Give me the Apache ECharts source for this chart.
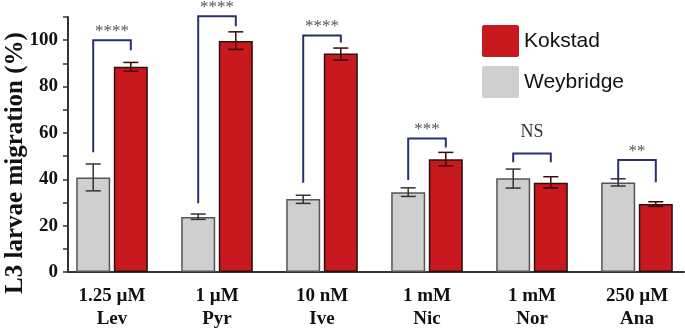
<!DOCTYPE html>
<html>
<head>
<meta charset="utf-8">
<script src="https://cdn.jsdelivr.net/npm/echarts@6/dist/echarts.min.js"></script>
<style>
html,body{margin:0;padding:0;background:#fff;}
#chart{width:685px;height:330px;}
</style>
</head>
<body>
<div id="chart"></div>
<script>
// ---- data ----
var categories = ['1.25 µM\nLev', '1 µM\nPyr', '10 nM\nIve', '1 mM\nNic', '1 mM\nNor', '250 µM\nAna'];
var weybridge = [40.8, 23.7, 31.5, 34.4, 40.4, 38.6];
var weybridgeLow = [35.0, 22.7, 29.6, 32.6, 36.2, 37.1];
var weybridgeHigh = [46.6, 25.0, 33.1, 36.3, 44.4, 40.2];
var kokstad = [88.5, 99.7, 94.3, 48.6, 38.5, 29.3];
var kokstadLow = [86.6, 96.0, 91.4, 45.8, 36.3, 28.3];
var kokstadHigh = [90.4, 103.6, 96.6, 51.6, 41.1, 30.3];
var bracketLeftBottom = [51.7, 29.7, 38.5, 39.7, 47.3, 39.4];
var bracketRightBottom = [95.7, 106.0, 99.0, 53.7, 47.3, 38.7];
var bracketTop = [100.0, 110.3, 102.0, 57.6, 51.1, 48.3];
var sigLabels = ['****', '****', '****', '***', 'NS', '**'];
var yTicks = [0, 20, 40, 60, 80, 100];

// ---- styles ----
var RED = '#c8191e', GRAY = '#cfcfcf', NAVY = '#28316f';
var BAR_W = 34, BAR_GAP = 3.6;
var OFF = (BAR_W + BAR_GAP) / 2;
var SQUARE = 'path://M2,0 H35 Q37,0 37,2 V30 Q37,32 35,32 H2 Q0,32 0,30 V2 Q0,0 2,0 Z';

var chart = echarts.init(document.getElementById('chart'), null, {renderer: 'canvas'});

function errRender(offset, color) {
  return function (params, api) {
    var idx = api.value(0);
    var pLo = api.coord([idx, api.value(1)]);
    var pHi = api.coord([idx, api.value(2)]);
    var cx = pLo[0] + offset, hw = 7.5;
    var st = {stroke: color, lineWidth: 1.5};
    return {type: 'group', children: [
      {type: 'line', shape: {x1: cx, y1: pLo[1], x2: cx, y2: pHi[1]}, style: st},
      {type: 'line', shape: {x1: cx - hw, y1: pLo[1], x2: cx + hw, y2: pLo[1]}, style: st},
      {type: 'line', shape: {x1: cx - hw, y1: pHi[1], x2: cx + hw, y2: pHi[1]}, style: st}
    ]};
  };
}

function errData(low, high) {
  return categories.map(function (c, i) { return [i, low[i], high[i]]; });
}

var bracketData = categories.map(function (c, i) {
  return [i, bracketLeftBottom[i], bracketRightBottom[i], bracketTop[i]];
});

var option = {
  animation: false,
  backgroundColor: '#ffffff',
  grid: [
    {left: 59.5, width: 630, top: 17, bottom: 58, outerBoundsMode: 'none', containLabel: false},
    {left: 68, right: 1, top: 17, bottom: 58, outerBoundsMode: 'none', containLabel: false}
  ],
  legend: {
    data: [{name: 'Kokstad', icon: SQUARE}, {name: 'Weybridge', icon: SQUARE}],
    orient: 'vertical',
    left: 477, top: 20,
    itemWidth: 37, itemHeight: 32, itemGap: 9,
    itemStyle: {borderWidth: 0},
    textStyle: {fontFamily: 'Liberation Sans, Arial, sans-serif', fontSize: 21, color: '#111'}
  },
  xAxis: [
    {
      type: 'category', gridIndex: 0, data: categories,
      axisLine: {show: false}, axisTick: {show: false},
      axisLabel: {
        margin: 13, fontFamily: 'Liberation Serif, Times New Roman, serif',
        fontWeight: 'bold', fontSize: 19, lineHeight: 23, color: '#111'
      }
    },
    {
      type: 'value', gridIndex: 1, min: 0, max: 1,
      axisLine: {show: true, onZero: false, lineStyle: {color: '#333', width: 2}},
      axisTick: {show: false}, axisLabel: {show: false}, splitLine: {show: false}
    }
  ],
  yAxis: [
    {type: 'value', gridIndex: 0, min: 0, max: 110, show: false},
    {
      type: 'value', gridIndex: 1, min: 0, max: 110, interval: 20,
      name: 'L3 larvae migration (%)', nameLocation: 'middle', nameGap: 40,
      nameMoveOverlap: false,
      nameTextStyle: {
        fontFamily: 'Liberation Serif, Times New Roman, serif', fontWeight: 'bold',
        fontSize: 25, color: '#111', padding: [0, 37, 0, 0]
      },
      axisLine: {show: true, lineStyle: {color: '#333', width: 2}},
      axisTick: {show: true, length: 5, lineStyle: {color: '#333', width: 1.5}},
      minorTick: {show: true, splitNumber: 2, length: 5, lineStyle: {color: '#333', width: 1.5}},
      splitLine: {show: false},
      axisLabel: {
        showMaxLabel: false, margin: 10,
        fontFamily: 'Liberation Serif, Times New Roman, serif', fontWeight: 'bold',
        fontSize: 19, color: '#111',
        formatter: function (v) { return yTicks.indexOf(v) >= 0 ? String(v) : ''; }
      }
    }
  ],
  series: [
    {
      name: 'Weybridge', type: 'bar', xAxisIndex: 0, yAxisIndex: 0,
      data: weybridge, barWidth: BAR_W, barGap: (BAR_GAP / BAR_W * 100) + '%',
      itemStyle: {color: GRAY, borderColor: '#555', borderWidth: 1.5}
    },
    {
      name: 'Kokstad', type: 'bar', xAxisIndex: 0, yAxisIndex: 0,
      data: kokstad, barWidth: BAR_W,
      itemStyle: {color: RED, borderColor: '#2a1010', borderWidth: 1.5}
    },
    {
      type: 'custom', xAxisIndex: 0, yAxisIndex: 0, z: 5,
      renderItem: errRender(-OFF, '#333'), data: errData(weybridgeLow, weybridgeHigh)
    },
    {
      type: 'custom', xAxisIndex: 0, yAxisIndex: 0, z: 5,
      renderItem: errRender(OFF, '#3a0606'), data: errData(kokstadLow, kokstadHigh)
    },
    {
      type: 'custom', xAxisIndex: 0, yAxisIndex: 0, z: 6, clip: false,
      data: bracketData,
      renderItem: function (params, api) {
        var idx = api.value(0);
        var pl = api.coord([idx, api.value(1)]);
        var pr = api.coord([idx, api.value(2)]);
        var pt = api.coord([idx, api.value(3)]);
        var xl = pl[0] - OFF, xr = pl[0] + OFF;
        var lab = sigLabels[params.dataIndex];
        var isNS = lab === 'NS';
        return {type: 'group', children: [
          {type: 'polyline', shape: {points: [[xl, pl[1]], [xl, pt[1]], [xr, pt[1]], [xr, pr[1]]]},
           style: {stroke: NAVY, lineWidth: 2, fill: null}},
          {type: 'text', style: {
            text: lab, x: pl[0], y: pt[1] - (isNS ? 21 : 9),
            textAlign: 'center', textVerticalAlign: 'middle',
            font: (isNS ? '18px' : '17px') + ' "Liberation Serif", serif',
            fill: isNS ? '#333' : '#555'
          }}
        ]};
      }
    }
  ]
};
chart.setOption(option);
</script>
</body>
</html>
